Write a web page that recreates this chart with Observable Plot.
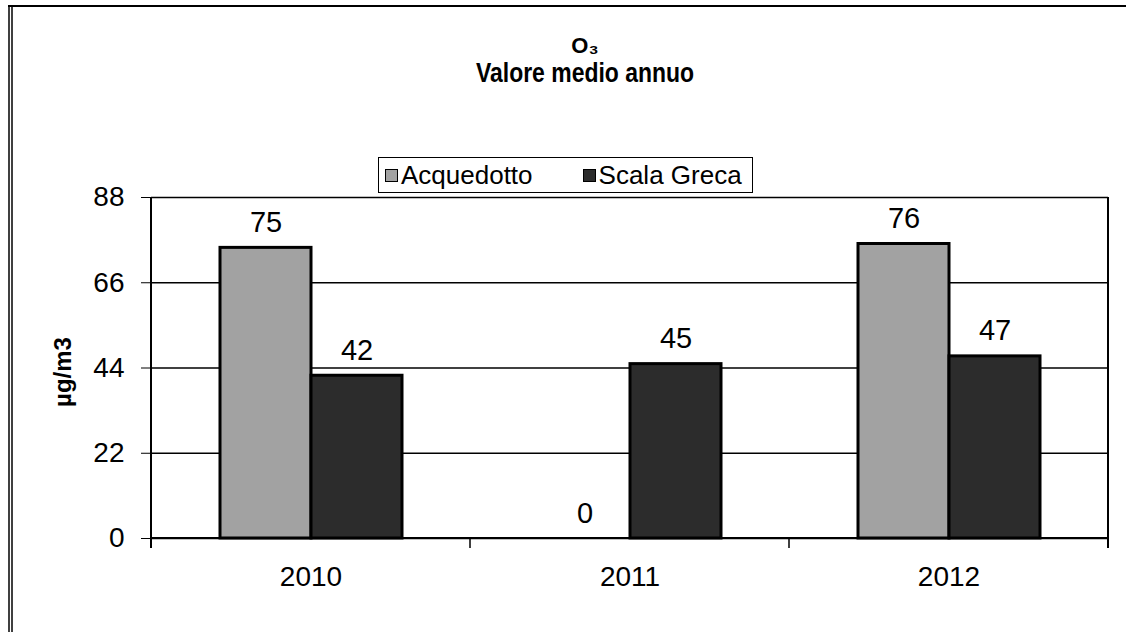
<!DOCTYPE html>
<html>
<head>
<meta charset="utf-8">
<script src="https://cdn.jsdelivr.net/npm/d3@7"></script>
<script src="https://cdn.jsdelivr.net/npm/@observablehq/plot@0.6"></script>
<style>
  html, body { margin: 0; padding: 0; background: #fff; }
  #wrap { position: relative; width: 1129px; height: 632px; overflow: hidden; font-family: "Liberation Sans", Arial, sans-serif; color: #000; }
  #title { position: absolute; left: 385px; width: 400px; top: 34px; text-align: center; font-weight: bold; }
  #t1 { font-size: 22px; line-height: 24px; }
  #t2 { font-size: 27px; line-height: 30px; transform: scaleX(0.85); }
  #legend { position: absolute; left: 378px; top: 157px; width: 367px; height: 34px; border: 1.5px solid #000; display: flex; align-items: center; justify-content: flex-start; padding-left: 6px; box-sizing: content-box; gap: 50px; font-size: 26px; background: #fff; }
  .item { display: flex; align-items: center; gap: 3px; }
  .sw { width: 11px; height: 11px; border: 1.5px solid #000; display: inline-block; }
  #ylabel { position: absolute; left: 63px; top: 372px; transform: translate(-50%, -50%) rotate(-90deg); font-weight: bold; font-size: 24px; white-space: nowrap; }
  #chart { position: absolute; left: 0; top: 0; }
</style>
</head>
<body>
<div id="wrap">
  <div id="chart"></div>
  <div id="title"><div id="t1">O₃</div><div id="t2">Valore medio annuo</div></div>
  <div id="legend"></div>
  <div id="ylabel">µg/m3</div>
</div>
<script>
const years = ["2010", "2011", "2012"];
const series = ["Acquedotto", "Scala Greca"];
const acquedotto = [75, 0, 76];
const scalaGreca = [42, 45, 47];
const yTicks = [0, 22, 44, 66, 88];
const colors = ["#a2a2a2", "#2c2c2c"];

const data = [];
years.forEach((yr, i) => {
  data.push({year: yr, series: series[0], value: acquedotto[i]});
  data.push({year: yr, series: series[1], value: scalaGreca[i]});
});

const chart = Plot.plot({
  width: 1129,
  height: 632,
  marginLeft: 150,
  marginRight: 20,
  marginTop: 197,
  marginBottom: 94,
  style: {fontFamily: "Liberation Sans, Arial, sans-serif", color: "#000", background: "transparent"},
  fx: {domain: years, padding: 0, label: null},
  x: {domain: series, paddingInner: 0, paddingOuter: 0.74, axis: null},
  y: {domain: [0, 88], label: null},
  color: {domain: series, range: colors},
  marks: [
    Plot.gridY(yTicks, {stroke: "#000", strokeOpacity: 1, strokeWidth: 1.5}),
    Plot.barY(data, {fx: "year", x: "series", y: "value", fill: "series", stroke: "#000", strokeWidth: 3}),
    Plot.text(data, {fx: "year", x: "series", y: "value", text: d => String(d.value), dy: -16, lineAnchor: "bottom", fontSize: 29, fill: "#000"}),
    Plot.axisY({ticks: yTicks, tickSize: 10, tickPadding: 17, fontSize: 28, label: null, stroke: "#000"}),
    Plot.axisFx({anchor: "bottom", tickSize: 0, tickPadding: 28, fontSize: 28, label: null})
  ]
});
document.getElementById("chart").appendChild(chart);

// frame lines and category boundary ticks, positioned from the plot's own scales
const fx = chart.scale("fx");
const y = chart.scale("y");
const svg = d3.select(chart);
const left = fx.apply(years[0]);
const right = fx.apply(years[years.length - 1]) + fx.bandwidth;
const y0 = y.apply(0), yTop = y.apply(88);
const g = svg.append("g").attr("stroke", "#000");
g.append("line").attr("x1", left).attr("x2", left).attr("y1", yTop).attr("y2", y0 + 10).attr("stroke-width", 2);
g.append("line").attr("x1", right).attr("x2", right).attr("y1", yTop).attr("y2", y0 + 10).attr("stroke-width", 2);
g.append("line").attr("x1", left).attr("x2", right).attr("y1", y0).attr("y2", y0).attr("stroke-width", 2);
years.slice(1).forEach(yr => {
  const xb = fx.apply(yr);
  g.append("line").attr("x1", xb).attr("x2", xb).attr("y1", y0).attr("y2", y0 + 10).attr("stroke-width", 1.5);
});
// outer chart border (top and double left edge)
g.append("line").attr("x1", 8).attr("x2", 1126).attr("y1", 6).attr("y2", 6).attr("stroke-width", 2);
g.append("line").attr("x1", 9).attr("x2", 9).attr("y1", 6).attr("y2", 632).attr("stroke-width", 1.5);
g.append("line").attr("x1", 12).attr("x2", 12).attr("y1", 6).attr("y2", 632).attr("stroke-width", 1.5);

// legend
const leg = document.getElementById("legend");
series.forEach((s, i) => {
  const it = document.createElement("div");
  it.className = "item";
  const sw = document.createElement("span");
  sw.className = "sw";
  sw.style.background = colors[i];
  it.appendChild(sw);
  const t = document.createElement("span");
  t.textContent = s;
  it.appendChild(t);
  leg.appendChild(it);
});
</script>
</body>
</html>
